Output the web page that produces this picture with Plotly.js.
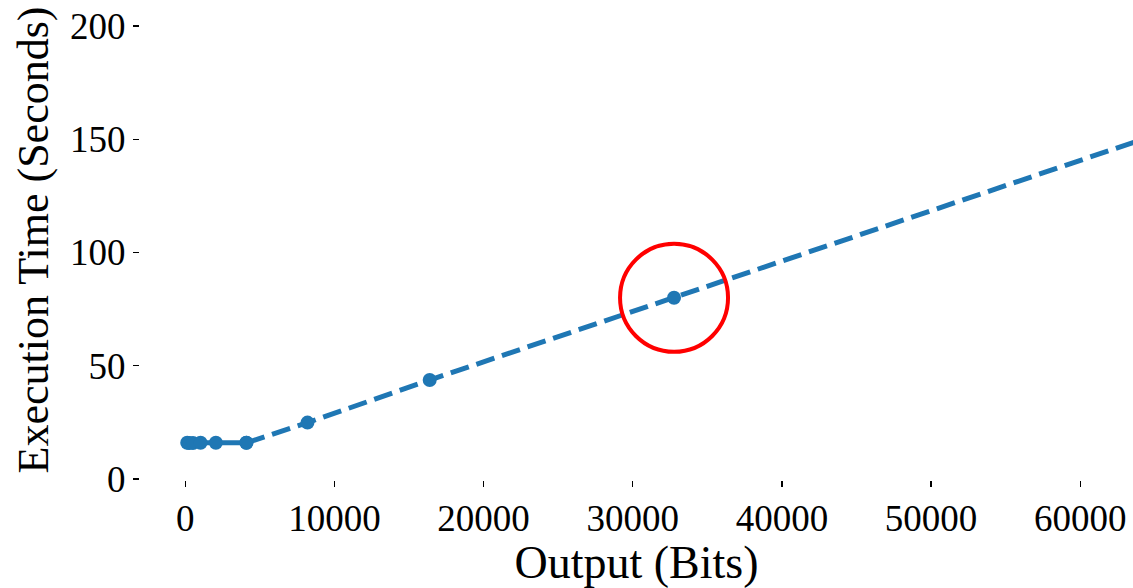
<!DOCTYPE html>
<html>
<head>
<meta charset="utf-8">
<script src="https://cdn.plot.ly/plotly-3.0.1.min.js"></script>
<style>html,body{margin:0;padding:0;background:#fff;}#chart{width:1133px;height:588px;}</style>
</head>
<body>
<div id="chart"></div>
<script>
// Measured points (solid segment)
const measuredBits = [128, 256, 512, 1024, 2048, 4096];
const measuredTime = [16.0, 15.9, 15.9, 16.0, 16.0, 16.0];
// Dashed segment
const dashedBits = [4096, 8192, 16384, 32768, 65536];
const dashedTime = [16.0, 24.9, 43.7, 80.0, 153.0];
// Highlighted point
const highlightBits = 32768;
const highlightTime = 80.0;
const xTicks = [0, 10000, 20000, 30000, 40000, 50000, 60000];
const yTicks = [0, 50, 100, 150, 200];

const blue = '#1f77b4';
const font = "'Liberation Serif', 'DejaVu Serif', serif";

const traces = [
  {x: measuredBits, y: measuredTime, type: 'scatter', mode: 'lines+markers',
   line: {color: blue, width: 5}, marker: {color: blue, size: 14}, showlegend: false, cliponaxis: true},
  {x: dashedBits, y: dashedTime, type: 'scatter', mode: 'lines+markers',
   line: {color: blue, width: 5, dash: '19px,8px'}, marker: {color: blue, size: 14}, showlegend: false, cliponaxis: true}
];

const layout = {
  width: 1133, height: 588,
  margin: {l: 140, r: 0, t: 0, b: 108},
  paper_bgcolor: '#fff', plot_bgcolor: '#fff',
  font: {family: font, color: '#000', size: 36},
  xaxis: {
    range: [-3038, 63540], tickvals: xTicks, ticktext: xTicks.map(String),
    showgrid: false, zeroline: false, showline: false,
    ticks: 'outside', ticklen: 6, tickwidth: 1.2, tickcolor: '#000',
    tickfont: {family: font, size: 37, color: '#000'},
    title: {text: 'Output (Bits)', font: {family: font, size: 46, color: '#000'}, standoff: 3}
  },
  yaxis: {
    range: [-0.44, 211.5], tickvals: yTicks, ticktext: yTicks.map(String),
    showgrid: false, zeroline: false, showline: false,
    ticks: 'outside', ticklen: 6, tickwidth: 1.2, tickcolor: '#000',
    tickfont: {family: font, size: 37, color: '#000'},
    title: {text: 'Execution Time (Seconds)', font: {family: font, size: 44, color: '#000'}, standoff: 7}
  },
  shapes: [{
    type: 'circle', xref: 'x', yref: 'y',
    xsizemode: 'pixel', ysizemode: 'pixel',
    xanchor: highlightBits, yanchor: highlightTime,
    x0: -54, x1: 54, y0: -54, y1: 54,
    line: {color: '#ff0000', width: 4}
  }]
};

Plotly.newPlot('chart', traces, layout, {displayModeBar: false, staticPlot: true});
</script>
</body>
</html>
